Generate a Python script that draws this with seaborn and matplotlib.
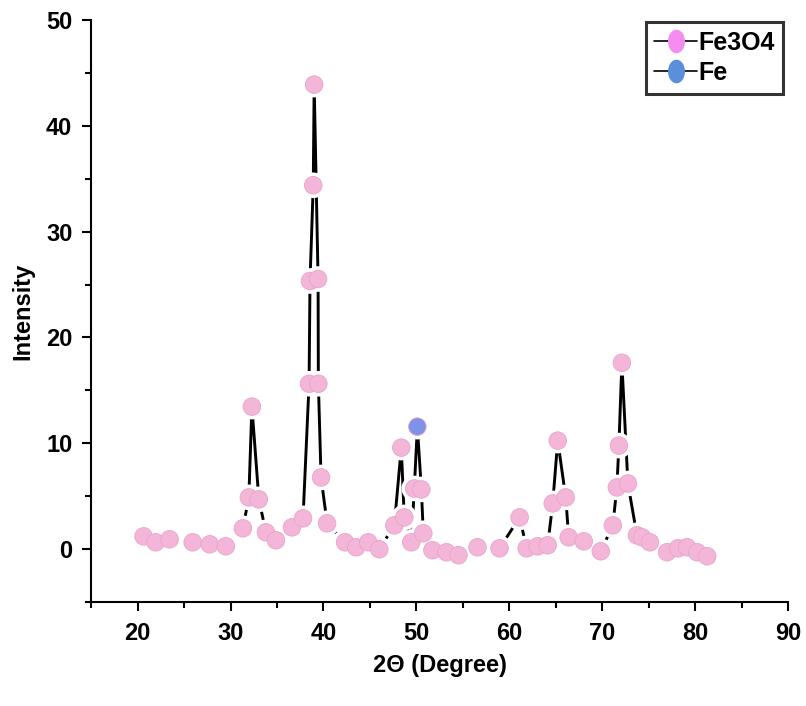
import matplotlib
matplotlib.use("Agg")
import matplotlib.pyplot as plt
from matplotlib.lines import Line2D
from matplotlib.path import Path
from matplotlib.transforms import Affine2D
import seaborn as sns
import pandas as pd

# ---- data ----
two_theta = [20.65, 21.94, 23.45, 25.93, 27.77, 29.49, 31.33, 31.97, 32.30, 33.05,
             33.81, 34.89, 36.61, 37.80, 38.45, 38.55, 38.90, 39.00, 39.42, 39.45,
             39.74, 40.39, 42.33, 43.52, 44.81, 46.00, 47.62, 48.37, 48.69, 49.45,
             49.77, 50.10, 50.53, 50.74, 51.72, 53.23, 54.52, 56.57, 58.94, 61.10,
             61.86, 63.04, 64.12, 64.66, 65.20, 66.06, 66.38, 68.00, 69.83, 71.13,
             71.56, 71.78, 72.10, 72.75, 73.72, 74.26, 75.12, 76.96, 78.14, 79.12,
             80.20, 81.28]
intensity = [1.22, 0.66, 0.94, 0.66, 0.47, 0.28, 1.98, 4.90, 13.47, 4.71,
             1.60, 0.85, 2.07, 2.92, 15.63, 25.33, 34.37, 43.88, 25.52, 15.63,
             6.78, 2.45, 0.66, 0.19, 0.66, 0.00, 2.26, 9.60, 3.01, 0.66,
             5.74, 11.58, 5.65, 1.51, -0.09, -0.28, -0.56, 0.19, 0.09, 3.01,
             0.09, 0.28, 0.38, 4.33, 10.26, 4.90, 1.13, 0.75, -0.19, 2.26,
             5.84, 9.79, 17.61, 6.21, 1.32, 1.13, 0.66, -0.28, 0.09, 0.19,
             -0.28, -0.66]
phase = ["Fe3O4"] * len(two_theta)
phase[31] = "Fe"

x_ticks = [20, 30, 40, 50, 60, 70, 80, 90]
y_ticks = [0, 10, 20, 30, 40, 50]

df = pd.DataFrame({"two_theta": two_theta, "intensity": intensity, "phase": phase})

sns.set_style("ticks")
plt.rcParams["font.family"] = ["Liberation Sans", "DejaVu Sans"]
plt.rcParams["text.color"] = "black"
plt.rcParams["axes.labelcolor"] = "black"
plt.rcParams["xtick.color"] = "black"
plt.rcParams["ytick.color"] = "black"

fig = plt.figure(figsize=(8.06, 7.06), dpi=100)
ax = fig.add_axes([0.113, 0.147, 0.865, 0.825])

pink = "#f4b6d8"
blue = "#7f92ea"

# connecting line
sns.lineplot(data=df, x="two_theta", y="intensity", sort=False, color="black",
             linewidth=2.1, ax=ax, zorder=2, legend=False)
# white halo for "gap to symbol"
sns.scatterplot(data=df, x="two_theta", y="intensity", color="white", s=340,
                edgecolor="none", linewidth=0, ax=ax, zorder=3, legend=False)
# markers
sns.scatterplot(data=df, x="two_theta", y="intensity", hue="phase",
                palette={"Fe3O4": pink, "Fe": blue}, s=160,
                edgecolor="#e9a3c8", linewidth=0.6, ax=ax, zorder=4, legend=False)

ax.set_xlim(15, 90)
ax.set_ylim(-5, 50)
ax.set_xticks(x_ticks)
ax.set_yticks(y_ticks)
ax.set_xticks([15, 25, 35, 45, 55, 65, 75, 85], minor=True)
ax.set_yticks([-5, 5, 15, 25, 35, 45], minor=True)
ax.tick_params(axis="both", which="major", direction="out", length=6.5, width=1.5,
               labelsize=17, colors="black")
ax.tick_params(axis="y", which="major", pad=7)
ax.tick_params(axis="x", which="major", pad=8)
ax.tick_params(axis="both", which="minor", direction="out", length=4, width=1.5,
               colors="black")
for lab in ax.get_xticklabels() + ax.get_yticklabels():
    lab.set_fontweight("bold")

sns.despine(ax=ax)
for sp in ["left", "bottom"]:
    ax.spines[sp].set_linewidth(1.5)
    ax.spines[sp].set_color("black")

ax.set_xlabel("2Θ (Degree)", fontsize=17, fontweight="bold", labelpad=6,
              color="black")
ax.set_ylabel("Intensity", fontsize=17, fontweight="bold", labelpad=8,
              color="black")

ellipse = Path.unit_circle().transformed(Affine2D().scale(0.72, 1.0))
handles = [
    Line2D([0], [0], color="black", lw=1.2, marker=ellipse, markersize=17,
           markerfacecolor="#f58cf0", markeredgecolor="none"),
    Line2D([0], [0], color="black", lw=1.2, marker=ellipse, markersize=17,
           markerfacecolor="#5a8fdc", markeredgecolor="none"),
]
leg = ax.legend(handles, ["Fe3O4", "Fe"], loc="upper right",
                bbox_to_anchor=(1.0, 1.005), frameon=True, fancybox=False,
                prop={"size": 18, "weight": "bold"}, handlelength=1.7,
                handletextpad=0.05, labelspacing=0.25, borderpad=0.35,
                borderaxespad=0.2)
leg.get_frame().set_edgecolor("black")
leg.get_frame().set_linewidth(2.2)
for t in leg.get_texts():
    t.set_color("black")

fig.savefig("out.png", dpi=100)
